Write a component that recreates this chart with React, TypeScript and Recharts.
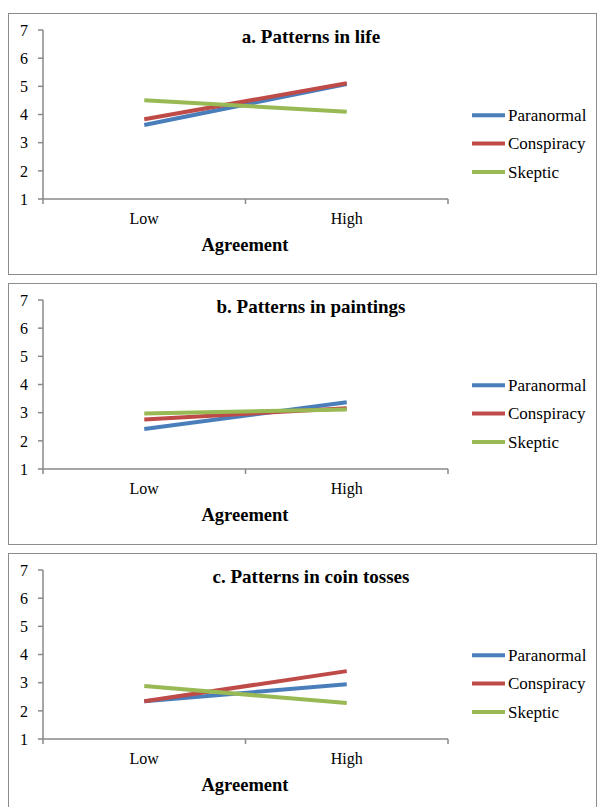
import React from "react";
import { LineChart, Line, XAxis, YAxis, Legend } from "recharts";

// category labels and y ticks
const categories = ["Low", "High"];
const yTicks = [1, 2, 3, 4, 5, 6, 7];

const seriesNames = ["Paranormal", "Conspiracy", "Skeptic"];
const seriesColors = ["#4A7EBB", "#BE4B48", "#98B954"];

// a. Patterns in life
const lifeParanormal = [3.63, 5.08];
const lifeConspiracy = [3.83, 5.11];
const lifeSkeptic = [4.51, 4.1];

// b. Patterns in paintings
const paintingsParanormal = [2.42, 3.37];
const paintingsConspiracy = [2.76, 3.16];
const paintingsSkeptic = [2.97, 3.11];

// c. Patterns in coin tosses
const coinParanormal = [2.34, 2.94];
const coinConspiracy = [2.34, 3.41];
const coinSkeptic = [2.88, 2.28];

const titles = [
  "a. Patterns in life",
  "b. Patterns in paintings",
  "c. Patterns in coin tosses",
];

const FONT = '"Liberation Serif", "Times New Roman", serif';
const AXIS = "#898989";

const keys = ["paranormal", "conspiracy", "skeptic"];

function buildRows(p: number[], c: number[], s: number[]) {
  return categories.map((label, i) => ({
    x: i + 0.5,
    label,
    paranormal: p[i],
    conspiracy: c[i],
    skeptic: s[i],
  }));
}

const panels = [
  { title: titles[0], rows: buildRows(lifeParanormal, lifeConspiracy, lifeSkeptic) },
  { title: titles[1], rows: buildRows(paintingsParanormal, paintingsConspiracy, paintingsSkeptic) },
  { title: titles[2], rows: buildRows(coinParanormal, coinConspiracy, coinSkeptic) },
];

// boundaries get a tick mark, centres get the category label
const xTicks: number[] = [];
for (let i = 0; i <= categories.length; i++) {
  xTicks.push(i);
  if (i < categories.length) xTicks.push(i + 0.5);
}

function CatTick(props: any) {
  const { x, y, payload } = props;
  const v = payload.value;
  if (Number.isInteger(v)) {
    return <line x1={x} x2={x} y1={y - 6} y2={y - 1} stroke={AXIS} strokeWidth={1.5} />;
  }
  return (
    <text x={x} y={y + 19} textAnchor="middle" fontSize={16} fontFamily={FONT} fill="#000">
      {categories[Math.floor(v)]}
    </text>
  );
}

function LegendBox() {
  return (
    <svg width={130} height={90} style={{ display: "block" }}>
      {seriesNames.map((name, i) => {
        const cy = 14.3 + i * 28.3;
        return (
          <g key={name}>
            <line x1={0} x2={33} y1={cy} y2={cy} stroke={seriesColors[i]} strokeWidth={4} />
            <text x={36} y={cy + 5.7} fontSize={17} fontFamily={FONT} fill="#000">
              {name}
            </text>
          </g>
        );
      })}
    </svg>
  );
}

function Panel({ title, rows, top }: { title: string; rows: any[]; top: number }) {
  return (
    <div
      style={{
        position: "absolute",
        left: 8,
        top,
        width: 589,
        height: 262,
        boxSizing: "border-box",
        border: "1px solid #8c8c8c",
        background: "#fff",
      }}
    >
      <LineChart
        width={587}
        height={260}
        data={rows}
        margin={{ top: 16, right: 148, bottom: 35, left: 0 }}
      >
        <XAxis
          type="number"
          dataKey="x"
          domain={[0, categories.length]}
          ticks={xTicks}
          interval={0}
          height={40}
          tickSize={6}
          tickMargin={0}
          tickLine={false}
          axisLine={{ stroke: AXIS, strokeWidth: 1.5 }}
          tick={(p: any) => <CatTick {...p} />}
        />
        <YAxis
          type="number"
          domain={[1, 7]}
          ticks={yTicks}
          interval={0}
          width={34}
          tickSize={5}
          tickMargin={10}
          axisLine={{ stroke: AXIS, strokeWidth: 1.5 }}
          tickLine={{ stroke: AXIS, strokeWidth: 1.5 }}
          tick={{ fontSize: 16, fill: "#000", fontFamily: FONT }}
        />
        <Legend
          layout="horizontal"
          align="center"
          verticalAlign="middle"
          content={() => <LegendBox />}
          wrapperStyle={{ position: "absolute", left: 463, top: 87, width: 130 }}
        />
        {keys.map((k, i) => (
          <Line
            key={k}
            type="linear"
            dataKey={k}
            name={seriesNames[i]}
            stroke={seriesColors[i]}
            strokeWidth={4}
            dot={false}
            activeDot={false}
            isAnimationActive={false}
          />
        ))}
      </LineChart>
      <div
        style={{
          position: "absolute",
          left: 302,
          top: 13,
          transform: "translateX(-50%)",
          whiteSpace: "nowrap",
          fontFamily: FONT,
          fontWeight: "bold",
          fontSize: 19,
          lineHeight: "20px",
        }}
      >
        {title}
      </div>
      <div
        style={{
          position: "absolute",
          left: 236,
          top: 221,
          transform: "translateX(-50%)",
          whiteSpace: "nowrap",
          fontFamily: FONT,
          fontWeight: "bold",
          fontSize: 18.5,
          lineHeight: "20px",
        }}
      >
        Agreement
      </div>
    </div>
  );
}

export default function App() {
  return (
    <div
      style={{
        position: "fixed",
        left: 0,
        top: 0,
        width: 598,
        height: 807,
        overflow: "hidden",
        background: "#fff",
      }}
    >
      {panels.map((p, i) => (
        <Panel key={p.title} title={p.title} rows={p.rows} top={12.5 + i * 270.3} />
      ))}
    </div>
  );
}
